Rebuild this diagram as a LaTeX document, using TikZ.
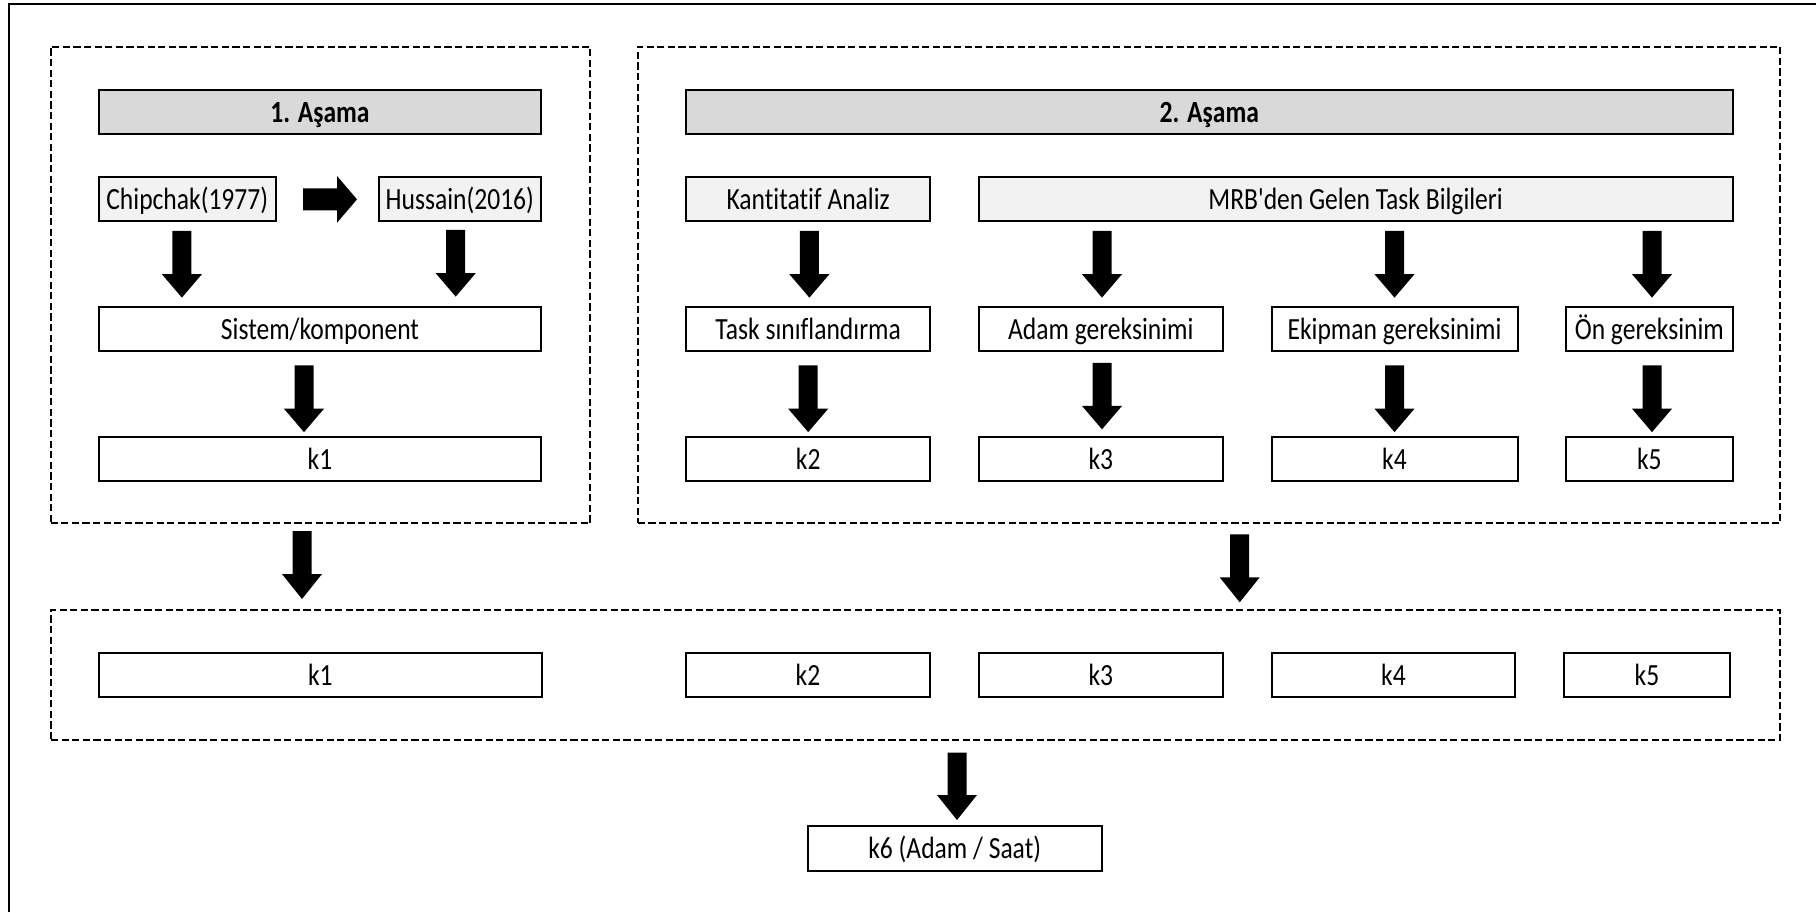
\documentclass[tikz,border=0pt]{standalone}
\usepackage{fontspec}
\setmainfont{Carlito}[FakeStretch=0.83, Ligatures={TeXOff,CommonOff}]
\usetikzlibrary{calc}

% vertical block arrow: start point, tip point (optional head length)
\newcommand\vblock[3][11.7pt]{%
  \fill[black] let \p1=(#2), \p2=(#3) in
    (\x1-4.75pt,\y1) -- (\x1+4.75pt,\y1) -- (\x1+4.75pt,\y2+#1) -- (\x1+10pt,\y2+#1)
    -- (\x1,\y2) -- (\x1-10pt,\y2+#1) -- (\x1-4.75pt,\y2+#1) -- cycle;}
% horizontal block arrow: start point, tip point
\newcommand\hblock[2]{%
  \fill[black] let \p1=(#1), \p2=(#2) in
    (\x1,\y1+5.5pt) -- (\x2-10pt,\y1+5.5pt) -- (\x2-10pt,\y1+11.7pt) -- (\x2,\y1)
    -- (\x2-10pt,\y1-11.7pt) -- (\x2-10pt,\y1-5.5pt) -- (\x1,\y1-5.5pt) -- cycle;}

\definecolor{headgray}{HTML}{D9D9D9}
\definecolor{srcgray}{HTML}{F2F2F2}

\tikzset{
  box/.style={draw=black, line width=1pt, fill=white, inner sep=0pt,
    minimum height=22pt, text height=10.6pt, text depth=0pt,
    font=\fontsize{15.4pt}{17pt}\selectfont},
  headbox/.style={box, fill=headgray, font=\fontsize{15.4pt}{17pt}\selectfont\bfseries},
  srcbox/.style={box, fill=srcgray},
  dashbox/.style={draw=black, line width=1pt, dash pattern=on 3.6pt off 1.7pt, inner sep=0pt},
}

\begin{document}
\begin{tikzpicture}[x=0.5pt, y=-0.5pt]
\useasboundingbox (0,0) rectangle (1816,912);

% outer frame (top and left edges)
\coordinate (fbl) at (9,912);
\coordinate (ftl) at (9,4);
\coordinate (ftr) at (1816,4);
\draw[line width=1.1pt] (fbl) -- (ftl) -- (ftr);

% stage containers
\node[dashbox, minimum width=269.85pt, minimum height=238.45pt] (stage1) at (320.45,284.95) {};
\node[dashbox, minimum width=571.1pt, minimum height=238.45pt] (stage2) at (1208.9,284.95) {};
\node[dashbox, minimum width=864.5pt, minimum height=65pt] (merge) at (915.5,675) {};

% stage 1
\node[headbox, minimum width=221pt] (h1) at (320,112.25) {1. Aşama};
\node[srcbox, minimum width=88.25pt] (chip) at (187.25,199.35) {Chipchak(1977)};
\node[srcbox, minimum width=81.15pt] (huss) at (459.85,199.35) {Hussain(2016)};
\node[box, minimum width=221pt] (sist) at (320,328.9) {Sistem/komponent};
\node[box, minimum width=221pt] (k1) at (320,458.5) {k1};

% stage 2
\node[headbox, minimum width=523.3pt] (h2) at (1209.3,112.25) {2. Aşama};
\node[srcbox, minimum width=122.2pt] (kant) at (808.2,199.35) {Kantitatif Analiz};
\node[srcbox, minimum width=377pt] (mrb) at (1355.6,199.35) {MRB'den Gelen Task Bilgileri};
\node[box, minimum width=122.2pt] (task) at (808.2,328.9) {Task sınıflandırma};
\node[box, minimum width=122.2pt] (adam) at (1100.8,328.9) {Adam gereksinimi};
\node[box, minimum width=123pt] (ekip) at (1394.5,328.9) {Ekipman gereksinimi};
\node[box, minimum width=83.3pt] (on) at (1649.3,328.9) {Ön gereksinim};
\node[box, minimum width=122.2pt] (k2) at (808.2,458.5) {k2};
\node[box, minimum width=122.2pt] (k3) at (1100.8,458.5) {k3};
\node[box, minimum width=123pt] (k4) at (1394.5,458.5) {k4};
\node[box, minimum width=83.3pt] (k5) at (1649.3,458.5) {k5};

% merged criteria
\node[box, minimum width=221.3pt, minimum height=22.3pt] (m1) at (320.3,675) {k1};
\node[box, minimum width=122.2pt, minimum height=22.3pt] (m2) at (808,675) {k2};
\node[box, minimum width=122.2pt, minimum height=22.3pt] (m3) at (1100.8,675) {k3};
\node[box, minimum width=121.7pt, minimum height=22.3pt] (m4) at (1393.5,675) {k4};
\node[box, minimum width=83pt, minimum height=22.3pt] (m5) at (1647,675) {k5};

% result
\node[box, minimum width=147pt, minimum height=22.5pt] (k6) at (954.7,848.2) {k6 (Adam / Saat)};

% arrows, stage 1
\hblock{$(chip.east)+(26.5,0)$}{$(huss.west)+(-20.7,0)$}
\vblock{$(chip.south)+(-5.35,8.6)$}{$(sist.north)+(0,-8.3)$}
\vblock{$(huss.south)+(-4.15,7.6)$}{$(sist.north)+(0,-9.3)$}
\vblock{$(sist.south)+(-16,13.4)$}{$(k1.north)+(0,-3.4)$}

% arrows, stage 2
\vblock{$(kant.south)+(1.2,8.6)$}{$(task.north)+(0,-8.3)$}
\vblock{$(task.south)+(0,13.4)$}{$(k2.north)+(0,-3.4)$}
\vblock{$(adam.north |- mrb.south)+(1.2,8.6)$}{$(adam.north)+(0,-8.3)$}
\vblock{$(adam.south)+(1.2,11)$}{$(k3.north)+(0,-6.2)$}
\vblock{$(ekip.north |- mrb.south)+(0,8.6)$}{$(ekip.north)+(0,-8.3)$}
\vblock{$(ekip.south)+(0,13.4)$}{$(k4.north)+(0,-3.4)$}
\vblock{$(on.north |- mrb.south)+(2.7,8.6)$}{$(on.north)+(0,-8.3)$}
\vblock{$(on.south)+(2.7,13.4)$}{$(k5.north)+(0,-3.4)$}

% arrows between containers and to the result
\vblock[12.5pt]{$(stage1.south)+(-18.45,6.6)$}{$(merge.north)+(0,-10)$}
\vblock[12.5pt]{$(stage2.south)+(30.8,9.9)$}{$(merge.north)+(0,-6.7)$}
\vblock[12.5pt]{$(k6.north |- merge.south)+(2.3,11.7)$}{$(k6.north)+(0,-4.7)$}
\end{tikzpicture}
\end{document}
